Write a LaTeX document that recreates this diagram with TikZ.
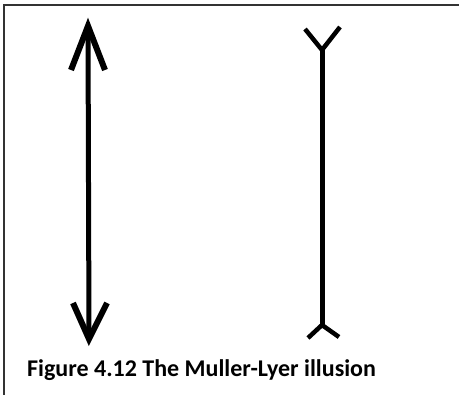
\documentclass[tikz,border=0pt]{standalone}
\usepackage{fontspec}
\setmainfont{Carlito}
\begin{document}
\begin{tikzpicture}[x=1pt,y=-1pt,
  frame/.style={draw=black!80,line width=1.8pt},
  stroke/.style={draw=black,line width=5pt},
  barb/.style={draw=black,line width=6pt,line cap=butt,line join=miter},
  captext/.style={font=\bfseries\fontsize{24}{28}\selectfont,anchor=base west,inner sep=0pt}]
\useasboundingbox (0,0) rectangle (459,395);
\fill[white] (0,0) rectangle (459,395);
% frame
\coordinate (fl) at (4,395);
\coordinate (ftl) at (4,5);
\coordinate (fr) at (459,5);
\draw[frame] (fl) -- (ftl) -- (fr);
% left arrow
\coordinate (at) at (88,26);
\coordinate (ab) at (89,339);
\draw[stroke] (at) -- (ab);
\draw[barb] (71,70) -- (at) -- (105,70);
\draw[barb] (73,303) -- (ab) -- (107,303);
% right line with fins
\coordinate (bt) at (322,50);
\coordinate (bb) at (322,325);
\draw[stroke] (bt) -- (bb);
\draw[barb,line width=4.5pt] (305,29) -- (bt) -- (340,27);
\draw[barb,line width=4.5pt] (308,338) -- (bb) -- (339,337);
\node[captext] (caption) at (27,377) {Figure 4.12 The Muller-Lyer illusion};
\end{tikzpicture}
\end{document}
